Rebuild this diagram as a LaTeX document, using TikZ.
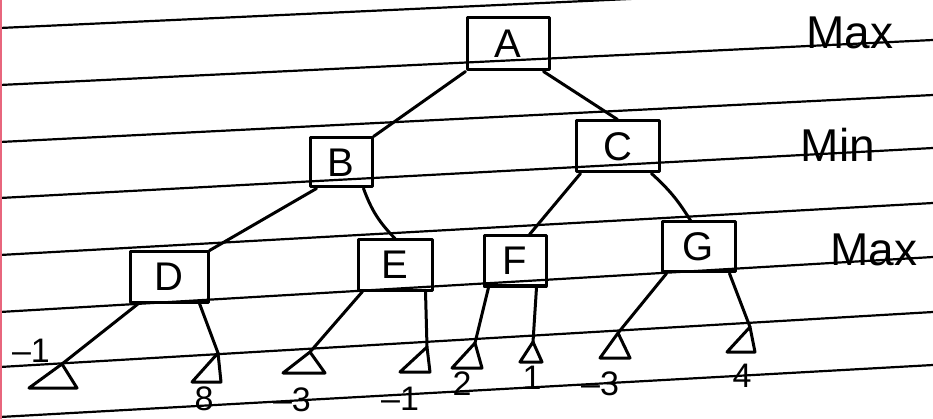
\documentclass[tikz,border=0pt]{standalone}
\usepackage{fontspec}
\setmainfont{Liberation Sans}
\begin{document}
\begin{tikzpicture}[x=1pt,y=-1pt,
  ink/.style={line width=3pt,black,line cap=round,line join=round},
  box/.style={draw,ink,rectangle,inner sep=0pt,font=\fontsize{40}{40}\selectfont},
  leaflab/.style={inner sep=0pt,font=\fontsize{34}{34}\selectfont},
  levlab/.style={inner sep=0pt,font=\fontsize{46}{46}\selectfont},
  rule/.style={line width=2.2pt,black}]
\useasboundingbox (0,0) rectangle (933,419);
\fill[white] (0,0) rectangle (933,419);
% ruled paper
\draw[rule] (0,28) -- (933,-15);
\draw[rule] (0,85) -- (933,40);
\draw[rule] (0,142) -- (933,95);
\draw[rule] (0,198) -- (933,148);
\draw[rule] (0,255) -- (933,203);
\draw[rule] (0,312) -- (933,257);
\draw[rule] (0,367) -- (933,312);
\draw[rule] (0,417) -- (933,365);
\draw[line width=2pt,red!40!purple!60] (1,0) -- (1,419);
% boxes
\node[box,minimum width=82pt,minimum height=52pt] (A) at (508,44) {A};
\node[box,minimum width=62pt,minimum height=49pt] (B) at (341,162.5) {B};
\node[box,minimum width=83pt,minimum height=51pt] (C) at (617.5,146.5) {C};
\node[box,minimum width=78pt,minimum height=50pt] (D) at (169,277) {D};
\node[box,minimum width=74pt,minimum height=50pt] (E) at (395,265) {E};
\node[box,minimum width=62pt,minimum height=50pt] (F) at (515,261) {F};
\node[box,minimum width=73pt,minimum height=50pt] (G) at (698.5,247) {G};
% level labels
\node[levlab] (lmax1) at (850,33) {Max};
\node[levlab] (lmin) at (838,145) {Min};
\node[levlab] (lmax2) at (874,250) {Max};
% leaf apexes
\coordinate (l1) at (62,364);
\coordinate (l2) at (218,353);
\coordinate (l3) at (310,352);
\coordinate (l4) at (427,347);
\coordinate (l5) at (475,343);
\coordinate (l6) at (533,342);
\coordinate (l7) at (618,333);
\coordinate (l8) at (750,327);
% tree edges
\draw[ink] (A.south west) -- (B.north east);
\draw[ink] ([xshift=-7pt]A.south east) -- (C.north);
\draw[ink] ([xshift=8pt]B.south west) -- (D.north east);
\draw[ink] ([xshift=-10pt]B.south east) to[bend right=12] (E.north);
\draw[ink] ([xshift=6pt]C.south west) -- ([xshift=-18pt]F.north east);
\draw[ink] ([xshift=-9pt]C.south east) to[bend left=8] ([xshift=-8pt]G.north);
\draw[ink] ([xshift=10pt]D.south west) -- (l1);
\draw[ink] ([xshift=-10pt]D.south east) -- (l2);
\draw[ink] ([xshift=6pt]E.south west) -- (l3);
\draw[ink] ([xshift=-8pt]E.south east) -- (l4);
\draw[ink] ([xshift=6pt]F.south west) -- (l5);
\draw[ink] ([xshift=-11pt]F.south east) -- (l6);
\draw[ink] ([xshift=6pt]G.south west) -- (l7);
\draw[ink] ([xshift=-7pt]G.south east) -- (l8);
% leaf triangles
\draw[ink] (l1) -- ++(-33,24) -- ++(48,0) -- cycle;
\draw[ink] (l2) -- ++(-26,29) -- ++(29,0) -- cycle;
\draw[ink] (l3) -- ++(-27,21) -- ++(42,0) -- cycle;
\draw[ink] (l4) -- ++(-27,25) -- ++(30,0) -- cycle;
\draw[ink] (l5) -- ++(-23,25) -- ++(30,0) -- cycle;
\draw[ink] (l6) -- ++(-13,20) -- ++(22,0) -- cycle;
\draw[ink] (l7) -- ++(-18,25) -- ++(30,0) -- cycle;
\draw[ink] (l8) -- ++(-23,25) -- ++(28,0) -- cycle;
% leaf values
\node[leaflab] (v1) at (31,351) {--1};
\node[leaflab] (v2) at (204,399) {8};
\node[leaflab] (v3) at (292,400) {--3};
\node[leaflab] (v4) at (400,399) {--1};
\node[leaflab] (v5) at (462,384) {2};
\node[leaflab] (v6) at (532,378) {1};
\node[leaflab] (v7) at (600,384) {--3};
\node[leaflab] (v8) at (742,376) {4};
\end{tikzpicture}
\end{document}
